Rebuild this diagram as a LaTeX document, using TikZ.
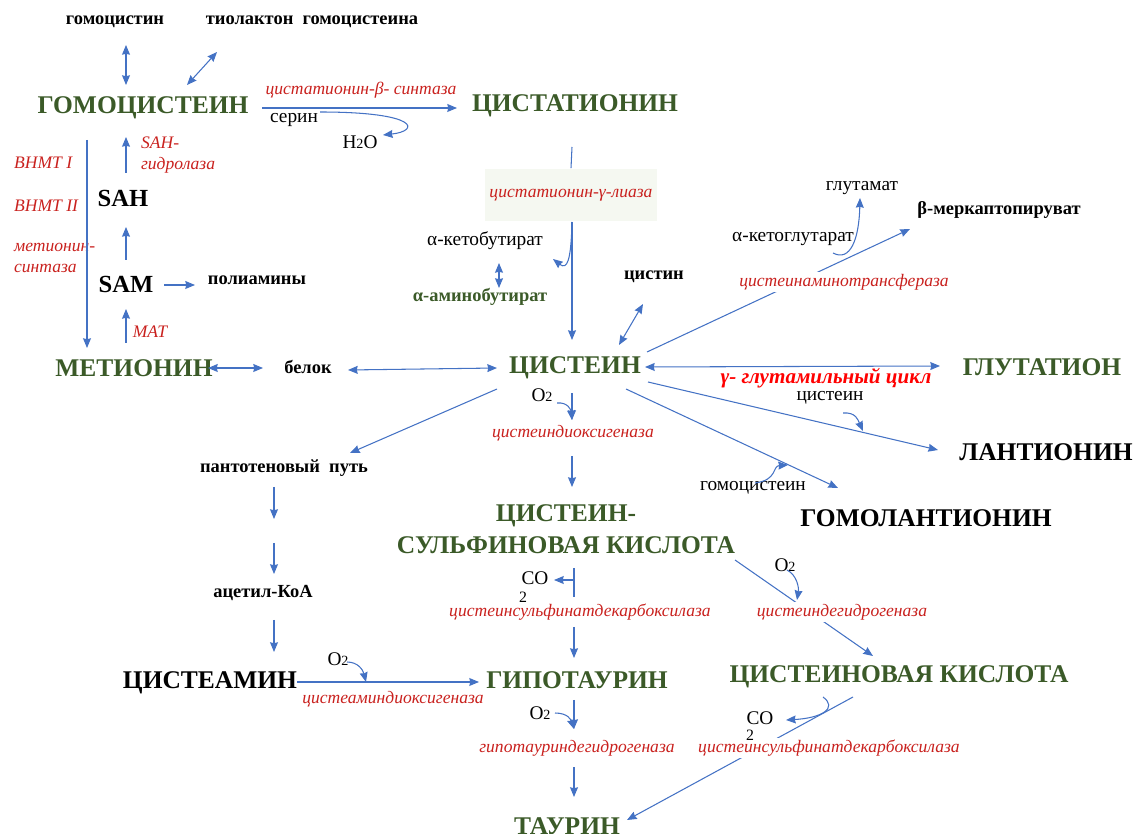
\documentclass[tikz,border=0pt]{standalone}
\usepackage{fontspec}
\setmainfont{Liberation Serif}[BoldFont={Liberation Serif Bold}, ItalicFont={Liberation Serif Italic}, BoldItalicFont={Liberation Serif Bold Italic}]
\usetikzlibrary{arrows.meta}

\definecolor{metgreen}{HTML}{3B5A28}
\definecolor{enzred}{HTML}{C9211E}
\definecolor{cycred}{HTML}{FF0000}
\definecolor{flowblue}{HTML}{4472C4}
\definecolor{boxfill}{HTML}{F5F8F1}

\newcommand{\ltwo}{{\fontsize{8}{8}\selectfont 2}}

\tikzset{
  metab/.style={font=\fontsize{14.5}{18}\selectfont\bfseries, text=metgreen, inner sep=1pt, align=center},
  metabblack/.style={font=\fontsize{14.5}{18}\selectfont\bfseries, inner sep=1pt},
  abbr/.style={font=\fontsize{14}{16}\selectfont\bfseries, inner sep=1pt},
  minor/.style={font=\fontsize{10.5}{12}\selectfont\bfseries, inner sep=1pt},
  reag/.style={font=\fontsize{11}{12}\selectfont, inner sep=1pt},
  enz/.style={font=\fontsize{10}{12}\selectfont\itshape, text=enzred, inner sep=1pt},
  flow/.style={draw=flowblue, line width=0.6pt, ->},
  link/.style={draw=flowblue, line width=0.6pt, <->},
  bare/.style={draw=flowblue, line width=0.6pt},
}

\begin{document}
\begin{tikzpicture}[>={Stealth[length=5.5pt,width=4.5pt,inset=0.5pt]}, x=0.02cm, y=-0.02cm]
\useasboundingbox (0,0) rectangle (1137,834);

% Nodes
\node[minor] (homocystine) at (115,22) {гомоцистин};
\node[minor] (thiolactone) at (312,22) {тиолактон\ \ гомоцистеина};
\node[metab] (hcy) at (143,108) {ГОМОЦИСТЕИН};
\node[metab] (cth) at (575,106) {ЦИСТАТИОНИН};
\node[reag] (serine) at (294,120) {серин};
\node[reag] (water) at (360,142) {H\ltwo O};
\node[abbr] (sah) at (123,198) {SAH};
\node[abbr] (sam) at (126,284) {SAM};
\node[minor] (polyamines) at (257,280) {полиамины};
\node[metab] (met) at (134,368) {МЕТИОНИН};
\node[minor] (protein) at (308,367) {белок};
\node[metab] (cys) at (575,368) {ЦИСТЕИН};
\node[minor] (cystine) at (654,277) {цистин};
\node[reag] (ketobut) at (485,241) {α-кетобутират};
\node[minor, text=metgreen] (aminobut) at (480,297) {α-аминобутират};
\node[reag] (ketoglu) at (793,239) {α-кетоглутарат};
\node[reag] (glu) at (862,188) {глутамат};
\node[minor] (mercap) at (999,210) {β-меркаптопируват};
\node[metab] (gsh) at (1042,367) {ГЛУТАТИОН};
\node[metabblack] (lan) at (1046,452) {ЛАНТИОНИН};
\node[metabblack] (hlan) at (926,518) {ГОМОЛАНТИОНИН};
\node[reag] (cysaux) at (830,398) {цистеин};
\node[reag] (hcyaux) at (753,488) {гомоцистеин};
\node[minor] (panto) at (284,468) {пантотеновый\ \ путь};
\node[minor] (acoa) at (263,593) {ацетил-КоА};
\node[metabblack] (cysteamine) at (210,683) {ЦИСТЕАМИН};
\node[metab] (csa) at (566,529) {ЦИСТЕИН-\\СУЛЬФИНОВАЯ КИСЛОТА};
\node[metab] (hypotau) at (577,680) {ГИПОТАУРИН};
\node[metab] (cysacid) at (899,677) {ЦИСТЕИНОВАЯ КИСЛОТА};
\node[metab] (taurine) at (567,826) {ТАУРИН};
\node[reag] (o2a) at (542,395) {O\ltwo};
\node[reag] (o2b) at (338,659) {O\ltwo};
\node[reag] (o2c) at (540,713) {O\ltwo};
\node[reag] (o2d) at (785,565) {O\ltwo};
\node[reag] (co2a) at (535,578) {CO};
\node[reag, font=\fontsize{9}{9}\selectfont] (co2aidx) at (523,597) {2};
\node[reag] (co2b) at (760,718) {CO};

% Enzymes
\node[enz] (cbs) at (361,90) {цистатионин-β- синтаза};
\node[enz, fill=boxfill, minimum width=3.46cm, minimum height=1.06cm] (cgl) at (571,195) {цистатионин-γ-лиаза};
\node[enz, anchor=west] (bhmt1) at (12,163) {BHMT I};
\node[enz, anchor=west] (bhmt2) at (12,206) {BHMT II};
\node[enz, anchor=west, align=left] (ms) at (12,258) {метионин-\\синтаза};
\node[enz, anchor=west, align=left] (sahh) at (139,155) {SAH-\\гидролаза};
\node[enz] (mat) at (150,332) {MAT};
\node[enz] (cdo) at (573,433) {цистеиндиоксигеназа};
\node[enz] (csad) at (580,612) {цистеинсульфинатдекарбоксилаза};
\node[enz] (cado) at (393,699) {цистеаминдиоксигеназа};
\node[enz] (htd) at (577,748) {гипотауриндегидрогеназа};
\node[font=\fontsize{12}{14}\selectfont\bfseries\itshape, text=cycred, inner sep=1pt] (gcycle) at (826,378) {γ- глутамильный цикл};

% Connector ends
\coordinate (hcyN1) at (126,85);   \coordinate (homocystineS) at (126,45);
\coordinate (hcyN2) at (187,85);   \coordinate (thiolactoneS) at (217,52);
\coordinate (hcyE) at (262,108);   \coordinate (cthW) at (457,108);
\coordinate (serineE) at (320,112); \coordinate (waterE) at (383,135);
\coordinate (hcyS) at (87,140);    \coordinate (metN1) at (87,348);
\coordinate (sahN) at (126,173);   \coordinate (hcyS2) at (126,137);
\coordinate (samN) at (126,260);   \coordinate (sahS) at (126,227);
\coordinate (metN2) at (126,343);  \coordinate (samS) at (126,309);
\coordinate (samE) at (164,285);   \coordinate (polyW) at (195,285);
\coordinate (metE) at (208,368);   \coordinate (protW) at (263,368);
\coordinate (protE) at (348,370);  \coordinate (cysW) at (497,368);
\coordinate (cthS) at (572,147);
\coordinate (cglS) at (572,222);   \coordinate (cysN) at (572,340);
\coordinate (ketobutE) at (553,259);
\coordinate (ketobutS) at (499,263); \coordinate (aminobutN) at (499,288);
\coordinate (cysNE) at (619,345);  \coordinate (cystineS) at (643,304);
\coordinate (cysE1) at (647,352);  \coordinate (mercapSW) at (910,229);
\coordinate (ketogluE) at (833,253); \coordinate (gluS) at (860,198);
\coordinate (cysE2) at (645,367);  \coordinate (gshW) at (940,366);
\coordinate (cysE3) at (648,382);  \coordinate (lanW) at (938,450);
\coordinate (cysauxS) at (843,413); \coordinate (lanIn) at (863,431);
\coordinate (cysSE) at (626,389);  \coordinate (hlanNW) at (838,488);
\coordinate (hcyauxE) at (755,483); \coordinate (hlanIn) at (788,465);
\coordinate (cysSW) at (497,389);  \coordinate (pantoN) at (350,453);
\coordinate (cysS) at (572,393);   \coordinate (cdoN) at (572,420);
\coordinate (o2aE) at (557,403);
\coordinate (cdoS) at (572,456);   \coordinate (csaN) at (572,487);
\coordinate (pantoS) at (274,487); \coordinate (pantoM) at (274,519);
\coordinate (acoaN0) at (274,543); \coordinate (acoaN) at (274,574);
\coordinate (acoaS) at (274,620);  \coordinate (cysteamineN) at (274,652);
\coordinate (cysteamineE) at (297,682); \coordinate (hypotauW) at (479,682);
\coordinate (o2bE) at (347,662);   \coordinate (cadoIn) at (366,682);
\coordinate (csaS) at (574,568);   \coordinate (csadN) at (574,597);
\coordinate (csaBr) at (574,580);  \coordinate (co2aE) at (554,580);
\coordinate (csadS) at (574,627);  \coordinate (hypotauN) at (574,658);
\coordinate (hypotauS) at (574,700); \coordinate (htdN) at (574,729);
\coordinate (o2cE) at (555,713);
\coordinate (htdS) at (574,767);   \coordinate (taurineN) at (574,797);
\coordinate (csaSE) at (735,560);  \coordinate (cysacidNW) at (873,656);
\coordinate (o2dS) at (787,570);   \coordinate (cdhIn) at (797,600);
\coordinate (cysacidSW) at (853,697); \coordinate (taurineNE) at (627,820);
\coordinate (cysacidS) at (823,697); \coordinate (co2bE) at (786,720);

% Connectors
\draw[link] (homocystineS) -- (hcyN1);
\draw[link] (thiolactoneS) -- (hcyN2);
\draw[flow] (hcyE) -- (cthW);
\draw[flow] (serineE) .. controls (420,112) and (420,131) .. (waterE);
\draw[flow] (hcyS) -- (metN1);
\draw[flow] (sahN) -- (hcyS2);
\draw[flow] (samN) -- (sahS);
\draw[flow] (metN2) -- (samS);
\draw[flow] (samE) -- (polyW);
\draw[link] (metE) -- (protW);
\draw[link] (protE) -- (cysW);
\draw[bare] (cthS) -- (cgl.north);
\draw[flow] (cglS) -- (cysN);
\draw[flow] (cglS) .. controls (571,262) and (567,270) .. (ketobutE);
\draw[link] (ketobutS) -- (aminobutN);
\draw[link] (cysNE) -- (cystineS);
\draw[flow] (cysE1) -- (mercapSW);
\draw[flow] (ketogluE) .. controls (850,262) and (859,240) .. (gluS);
\draw[link] (cysE2) -- (gshW);
\draw[flow] (cysE3) -- (lanW);
\draw[flow] (cysauxS) .. controls (856,412) and (858,420) .. (lanIn);
\draw[flow] (cysSE) -- (hlanNW);
\draw[flow] (hcyauxE) .. controls (778,480) and (772,466) .. (hlanIn);
\draw[flow] (cysSW) -- (pantoN);
\draw[flow] (cysS) -- (cdoN);
\draw[flow] (o2aE) .. controls (568,402) and (571,410) .. (cdoN);
\draw[flow] (cdoS) -- (csaN);
\draw[flow] (pantoS) -- (pantoM);
\draw[flow] (acoaN0) -- (acoaN);
\draw[flow] (acoaS) -- (cysteamineN);
\draw[flow] (cysteamineE) -- (hypotauW);
\draw[flow] (o2bE) .. controls (358,662) and (363,670) .. (cadoIn);
\draw[bare] (csaS) -- (csadN);
\draw[flow] (csaBr) -- (co2aE);
\draw[flow] (csadS) -- (hypotauN);
\draw[flow] (hypotauS) -- (htdN);
\draw[flow] (o2cE) .. controls (568,713) and (571,720) .. (htdN);
\draw[flow] (htdS) -- (taurineN);
\draw[flow] (csaSE) -- (cysacidNW);
\draw[flow] (o2dS) .. controls (797,575) and (799,588) .. (cdhIn);
\draw[flow] (cysacidSW) -- (taurineNE);
\draw[flow] (cysacidS) .. controls (838,708) and (822,718) .. (co2bE);

% Labels over lines
\node[enz, fill=white] (cat) at (844,282) {цистеинаминотрансфераза};
\node[enz, fill=white] (cdh) at (842,612) {цистеиндегидрогеназа};
\node[enz, fill=white] (csad2) at (829,748) {цистеинсульфинатдекарбоксилаза};
\node[reag, font=\fontsize{9}{9}\selectfont] (co2bidx) at (750,735) {2};

\end{tikzpicture}
\end{document}
